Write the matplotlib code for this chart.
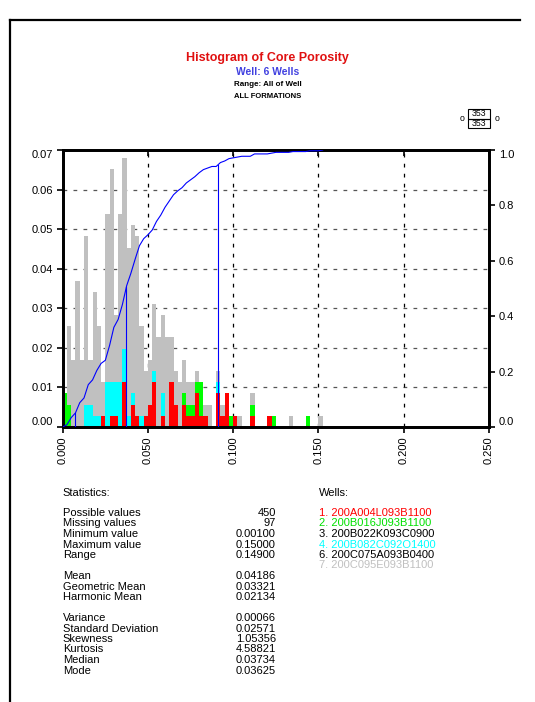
import matplotlib
matplotlib.use("Agg")
import matplotlib.pyplot as plt
import numpy as np
from matplotlib.lines import Line2D
from matplotlib.patches import Rectangle

plt.rcParams['font.family'] = ['Liberation Sans', 'DejaVu Sans']

W, H = 535, 702

# histogram bins: 0.0025 wide, counts per well
bin_width = 0.0025
n_bins = 61
red_counts = {9: 1, 11: 1, 12: 1, 14: 4, 16: 2, 17: 1, 19: 1, 20: 2, 21: 4, 23: 1,
              25: 4, 26: 2, 28: 2, 29: 1, 30: 1, 31: 3, 32: 1, 33: 1, 36: 3, 37: 1,
              38: 3, 40: 1, 44: 1, 48: 1}
green_counts = {0: 3, 1: 2, 28: 1, 29: 1, 30: 1, 31: 1, 32: 3, 39: 1, 44: 1, 49: 1, 57: 1}
cyan_counts = {5: 2, 6: 2, 7: 1, 8: 1, 10: 4, 11: 3, 12: 3, 13: 4, 14: 3, 15: 1, 16: 1,
               18: 1, 21: 1, 23: 2, 36: 1}
total_counts = [3, 9, 6, 13, 6, 17, 6, 12, 9, 4, 19, 23, 10, 19, 24, 16, 18, 17,
                9, 5, 6, 11, 8, 10, 8, 8, 5, 4, 6, 4, 4, 5, 4, 2, 2, 0, 5, 2, 3, 1, 1,
                1, 0, 0, 3, 0, 0, 0, 1, 1, 0, 0, 0, 1, 0, 0, 0, 1, 0, 0, 1]

p5, median, p95 = 0.0072, 0.03734, 0.0910

stats_labels = ["Possible values", "Missing values", "Minimum value", "Maximum value", "Range",
                None, "Mean", "Geometric Mean", "Harmonic Mean",
                None, "Variance", "Standard Deviation", "Skewness", "Kurtosis", "Median", "Mode"]
stats_values = ["450", "97", "0.00100", "0.15000", "0.14900",
                None, "0.04186", "0.03321", "0.02134",
                None, "0.00066", "0.02571", "1.05356", "4.58821", "0.03734", "0.03625"]
wells = ["1. 200A004L093B1100", "2. 200B016J093B1100", "3. 200B022K093C0900",
         "4. 200B082C092O1400", "6. 200C075A093B0400", "7. 200C095E093B1100"]
well_colors = ["#ff0000", "#00e000", "#000000", "#00ffff", "#000000", "#c0c0c0"]

red = np.array([red_counts.get(i, 0) for i in range(n_bins)], float)
green = np.array([green_counts.get(i, 0) for i in range(n_bins)], float)
cyan = np.array([cyan_counts.get(i, 0) for i in range(n_bins)], float)
total = np.array(total_counts, float)
gray = total - red - green - cyan
n_total = total.sum()
left_edges = np.arange(n_bins) * bin_width


def fx(px):
    return px / W


def fy(py):
    return 1 - py / H


fig = plt.figure(figsize=(W / 100, H / 100), dpi=100)
ax = fig.add_axes([fx(62.7), fy(427), fx(489) - fx(62.7), fy(150) - fy(427)])

bottom = np.zeros(n_bins)
for vals, col in [(red, "#ff0000"), (green, "#00ff00"), (cyan, "#00ffff"), (gray, "#c0c0c0")]:
    ax.bar(left_edges, vals / n_total, width=bin_width, bottom=bottom / n_total,
           align='edge', color=col, linewidth=0, zorder=2)
    bottom += vals

ax.set_xlim(0, 0.25)
ax.set_ylim(0, 0.07)
for yv in np.arange(0.01, 0.065, 0.01):
    ax.axhline(yv, color="#555555", lw=0.9, ls=(0, (3, 5)), zorder=1)
for xv in [0.05, 0.10, 0.15, 0.20]:
    ax.axvline(xv, color="#000000", lw=0.9, ls=(0, (3, 5)), zorder=1)

fs_tick = 8
ax.set_xticks(np.arange(0, 0.2501, 0.05))
ax.set_xticklabels(["%.3f" % v for v in np.arange(0, 0.2501, 0.05)], rotation=90, fontsize=fs_tick)
ax.set_yticks(np.arange(0, 0.0701, 0.01))
ylabs = ax.set_yticklabels(["%.2f" % v for v in np.arange(0, 0.0701, 0.01)], fontsize=fs_tick)
ylabs[0].set_va('bottom')
ylabs[-1].set_va('top')
ax.tick_params(axis='x', direction='out', length=4, width=1.2, pad=3, top=False)
ax.tick_params(axis='y', direction='out', length=4, width=1.2, pad=3)
for s in ax.spines.values():
    s.set_linewidth(2)

ax2 = ax.twinx()
ax2.set_ylim(0, 1)
cum_x = np.concatenate([[0], left_edges + bin_width])
cum_y = np.concatenate([[0], np.cumsum(total) / n_total])
ax2.plot(cum_x, cum_y, color="#0000ff", lw=0.8, zorder=5)
for pv in [p5, median, p95]:
    ax2.plot([pv, pv], [0, np.interp(pv, cum_x, cum_y)], color="#0000ff", lw=0.8, zorder=5)
ax2.set_yticks(np.arange(0, 1.01, 0.2))
rlabs = ax2.set_yticklabels(["%.1f" % v for v in np.arange(0, 1.01, 0.2)], fontsize=fs_tick)
rlabs[0].set_va('bottom')
rlabs[-1].set_va('top')
ax2.tick_params(axis='y', direction='out', length=4, width=1.2, pad=3)
for s in ax2.spines.values():
    s.set_linewidth(2)
ax2.set_xlim(0, 0.25)

# top ticks inward
ax3 = ax.secondary_xaxis('top')
ax3.set_xticks(np.arange(0, 0.2501, 0.05))
ax3.set_xticklabels([])
ax3.tick_params(direction='in', length=4, width=1.2)

# titles
fig.text(fx(267.5), fy(58), "Histogram of Core Porosity", color="#e01010", fontsize=9,
         fontweight='bold', ha='center', va='center')
fig.text(fx(267.5), fy(72), "Well: 6 Wells", color="#4040e0", fontsize=7.4,
         fontweight='bold', ha='center', va='center')
fig.text(fx(267.5), fy(85), "Range: All of Well", color="#000000", fontsize=5.8,
         fontweight='bold', ha='center', va='center')
fig.text(fx(267.5), fy(96), "ALL FORMATIONS", color="#000000", fontsize=5.5,
         fontweight='bold', ha='center', va='center')

# count box
for y0 in [109, 118.5]:
    fig.patches.append(Rectangle((fx(468), fy(y0 + 9.5)), fx(490) - fx(468), fy(y0) - fy(y0 + 9.5),
                                 transform=fig.transFigure, fill=False, lw=0.8, ec="#000000"))
    fig.text(fx(479), fy(y0 + 4.9), "%d" % int(n_total), fontsize=6.3, ha='center', va='center')
fig.text(fx(462), fy(118.5), "o", fontsize=6.3, ha='center', va='center')
fig.text(fx(497), fy(118.5), "o", fontsize=6.3, ha='center', va='center')

# page frame
fig.lines.append(Line2D([fx(9.5), fx(9.5)], [fy(20), fy(702)], transform=fig.transFigure,
                        color="#000000", lw=1.6))
fig.lines.append(Line2D([fx(9.5), fx(520)], [fy(20), fy(20)], transform=fig.transFigure,
                        color="#000000", lw=1.6))

# statistics
fs_txt = 8.0
step = 10.5
fig.text(fx(62.7), fy(493), "Statistics:", fontsize=fs_txt, va='center')
y = 513
for lab, val in zip(stats_labels, stats_values):
    if lab is not None:
        fig.text(fx(62.7), fy(y), lab, fontsize=fs_txt, va='center')
        fig.text(fx(276), fy(y), val, fontsize=fs_txt, va='center', ha='right')
    y += step

fig.text(fx(319), fy(493), "Wells:", fontsize=fs_txt, va='center')
for k, (wname, wc) in enumerate(zip(wells, well_colors)):
    fig.text(fx(319), fy(513 + step * k), wname, fontsize=fs_txt, va='center', color=wc)

fig.savefig("out.png", dpi=100)
